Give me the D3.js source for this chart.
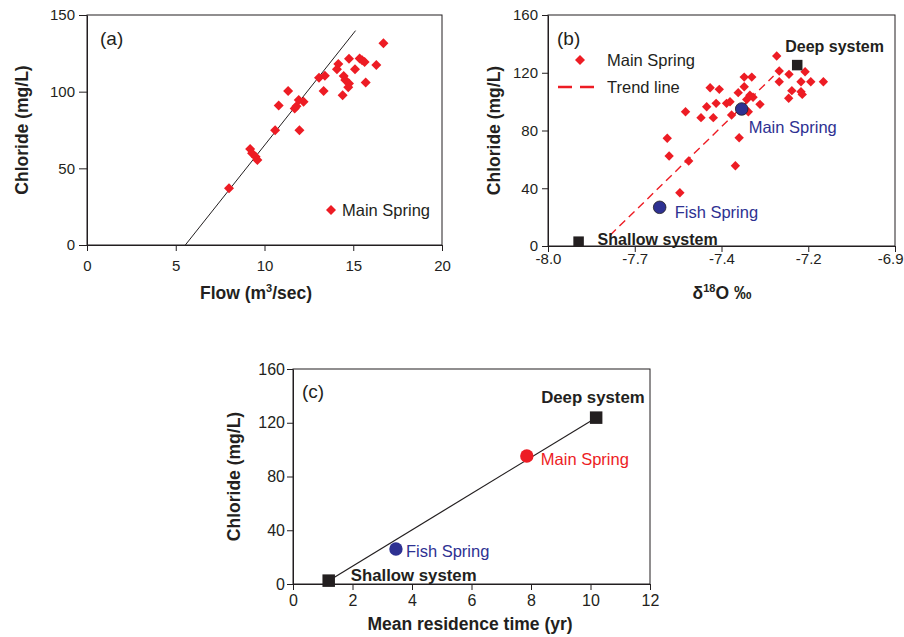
<!DOCTYPE html>
<html><head><meta charset="utf-8">
<script src="https://cdn.jsdelivr.net/npm/d3@7"></script>
<style>
body{margin:0;background:#fff}
text{font-family:"Liberation Sans",Arial,Helvetica,sans-serif;fill:#231f20}
</style>
</head><body>
<svg id="chart" width="904" height="637"></svg>
<script>
// ---------- DATA ----------
// Panel (a): Main Spring, flow vs chloride
const flowA = [8.0, 9.19, 9.3, 9.5, 9.6, 10.6, 10.8, 11.33, 11.7, 11.8, 11.93, 12.2, 11.97, 13.07, 13.4, 13.33, 14.16, 14.08, 14.4, 14.46, 14.55, 14.76, 14.72, 14.76, 15.1, 15.36, 15.5, 15.64, 15.7, 16.3, 16.7];
const chlorideA = [37, 62.6, 59.8, 57.6, 55.4, 74.8, 90.9, 100.4, 89.1, 90.5, 94.6, 93.5, 74.8, 109, 110.4, 100.4, 118, 114.6, 97.6, 110.2, 107.6, 105.4, 102.8, 121.5, 114.6, 121.7, 120.5, 119.3, 105.9, 117.4, 131.5];
const fitFlowA = [5.54, 15.13];
const fitChlorideA = [0, 139.8];
const ticksAx = [0, 5, 10, 15, 20];
const ticksAy = [0, 50, 100, 150];

// Panel (b): d18O vs chloride
const d18oB = [-7.275, -7.267, -7.236, -7.185, -7.267, -7.198, -7.167, -7.127, -7.227, -7.198, -7.237, -7.194, -7.378, -7.354, -7.378, -7.397, -7.360, -7.350, -7.370, -7.486, -7.457, -7.497, -7.467, -7.434, -7.423, -7.328, -7.515, -7.476, -7.418, -7.365, -7.394, -7.564, -7.622, -7.616, -7.554, -7.406, -7.582];
const chlorideB = [131.6, 121.2, 118.9, 120.7, 113.8, 113.8, 113.8, 113.8, 107.6, 106.9, 102.3, 105.0, 117.0, 117.0, 110.3, 106.2, 104.5, 103.0, 101.5, 109.6, 108.5, 96.5, 98.8, 98.8, 99.9, 98.1, 88.9, 88.9, 90.7, 93.0, 75.0, 93.0, 74.6, 62.3, 58.9, 55.6, 36.9];
const trendD18oB = [-7.803, -7.285];
const trendChlorideB = [7.5, 117.7];
const springNames = ["Main Spring", "Fish Spring"];
const springD18o = [-7.386, -7.646];
const springChlorideB = [94.9, 26.8];
const endNames = ["Deep system", "Shallow system"];
const endD18o = [-7.210, -7.903];
const endChlorideB = [125.3, 3.0];
const ticksBx = [-8.0, -7.725, -7.45, -7.175, -6.9];
const tickLabelsBx = ["-8.0", "-7.7", "-7.4", "-7.2", "-6.9"];
const ticksBy = [0, 40, 80, 120, 160];

// Panel (c): mean residence time vs chloride
const namesC = ["Shallow system", "Fish Spring", "Main Spring", "Deep system"];
const timeC = [1.2, 3.46, 7.86, 10.19];
const chlorideC = [2.5, 26, 95.3, 123.8];
const ticksCx = [0, 2, 4, 6, 8, 10, 12];
const ticksCy = [0, 40, 80, 120, 160];

// ---------- STYLE ----------
const RED = "#ed1c24", BLUE = "#2e3192", DARK = "#231f20";
const svg = d3.select("#chart");
const diamond = r => `M0,${-r}L${r},0L0,${r}L${-r},0Z`;

function frame(g, x, y) {
  g.append("rect")
    .attr("x", x.range()[0]).attr("y", y.range()[1])
    .attr("width", x.range()[1] - x.range()[0])
    .attr("height", y.range()[0] - y.range()[1])
    .attr("fill", "none").attr("stroke", DARK).attr("stroke-width", 1);
}
function styleAxis(g, fs) {
  g.select(".domain").attr("stroke", DARK);
  g.selectAll(".tick line").attr("stroke", DARK);
  g.selectAll(".tick text").attr("fill", DARK).style("font-size", fs + "px")
    .style("font-family", '"Liberation Sans",Arial,sans-serif');
}

// ---------- PANEL (a) ----------
{
  const x = d3.scaleLinear().domain([0, 20]).range([87, 442]);
  const y = d3.scaleLinear().domain([0, 150]).range([245, 15]);
  const g = svg.append("g");
  g.append("g").attr("transform", `translate(0,${y(0)})`)
    .call(d3.axisBottom(x).tickValues(ticksAx).tickSize(6).tickSizeOuter(0).tickPadding(9))
    .call(a => styleAxis(a, 15));
  g.append("g").attr("transform", `translate(${x(0)},0)`)
    .call(d3.axisLeft(y).tickValues(ticksAy).tickSize(8).tickSizeOuter(0).tickPadding(4))
    .call(a => styleAxis(a, 15));
  frame(g, x, y);
  g.append("line")
    .attr("x1", x(fitFlowA[0])).attr("y1", y(fitChlorideA[0]))
    .attr("x2", x(fitFlowA[1])).attr("y2", y(fitChlorideA[1]))
    .attr("stroke", DARK).attr("stroke-width", 1);
  g.selectAll("path.pt").data(flowA.map((f, i) => [f, chlorideA[i]])).enter()
    .append("path").attr("class", "pt")
    .attr("d", diamond(5))
    .attr("transform", d => `translate(${x(d[0])},${y(d[1])})`)
    .attr("fill", RED);
  g.append("text").attr("x", 100).attr("y", 45).style("font-size", "19px").text("(a)");
  // legend
  g.append("path").attr("d", diamond(5)).attr("transform", "translate(331,210)").attr("fill", RED);
  g.append("text").attr("x", 342).attr("y", 216).style("font-size", "16.5px").text("Main Spring");
  // axis titles
  const t = g.append("text").attr("x", 256).attr("y", 299).attr("text-anchor", "middle")
    .style("font-size", "17.5px").style("font-weight", "bold");
  t.append("tspan").text("Flow (m");
  t.append("tspan").attr("dy", -7).style("font-size", "11px").text("3");
  t.append("tspan").attr("dy", 7).text("/sec)");
  g.append("text").attr("transform", `translate(28,${(y.range()[0] + y.range()[1]) / 2}) rotate(-90)`)
    .attr("text-anchor", "middle").style("font-size", "17.5px").style("font-weight", "bold")
    .text("Chloride (mg/L)");
}

// ---------- PANEL (b) ----------
{
  const x = d3.scaleLinear().domain([-8.0, -6.9]).range([548, 895]);
  const y = d3.scaleLinear().domain([0, 160]).range([246, 15]);
  const g = svg.append("g");
  const xa = g.append("g").attr("transform", `translate(0,${y(0)})`)
    .call(d3.axisBottom(x).tickValues(ticksBx).tickFormat((d, i) => tickLabelsBx[i])
      .tickSize(6).tickSizeOuter(0).tickPadding(1))
    .call(a => styleAxis(a, 15));
  // keep the last label inside the page
  xa.selectAll(".tick text").filter((d, i) => i === ticksBx.length - 1)
    .attr("text-anchor", "end").attr("x", 8);
  g.append("g").attr("transform", `translate(${x(-8.0)},0)`)
    .call(d3.axisLeft(y).tickValues(ticksBy).tickSize(6).tickSizeOuter(0).tickPadding(4))
    .call(a => styleAxis(a, 15));
  frame(g, x, y);
  g.append("line")
    .attr("x1", x(trendD18oB[0])).attr("y1", y(trendChlorideB[0]))
    .attr("x2", x(trendD18oB[1])).attr("y2", y(trendChlorideB[1]))
    .attr("stroke", RED).attr("stroke-width", 1.4).attr("stroke-dasharray", "8,5");
  g.selectAll("path.pt").data(d18oB.map((v, i) => [v, chlorideB[i]])).enter()
    .append("path").attr("class", "pt")
    .attr("d", diamond(4.7))
    .attr("transform", d => `translate(${x(d[0])},${y(d[1])})`)
    .attr("fill", RED);
  // end members (squares)
  const sq = 10.5;
  endNames.forEach((n, i) => {
    g.append("rect").attr("x", x(endD18o[i]) - sq / 2).attr("y", y(endChlorideB[i]) - sq / 2)
      .attr("width", sq).attr("height", sq).attr("fill", DARK);
  });
  // springs (circles)
  springNames.forEach((n, i) => {
    g.append("circle").attr("cx", x(springD18o[i])).attr("cy", y(springChlorideB[i])).attr("r", 6.3)
      .attr("fill", BLUE).attr("stroke", DARK).attr("stroke-width", 0.8);
  });
  const springOff = [[7, 24], [15, 11]];
  springNames.forEach((n, i) => {
    g.append("text").attr("x", x(springD18o[i]) + springOff[i][0]).attr("y", y(springChlorideB[i]) + springOff[i][1])
      .style("font-size", "16.5px").style("fill", BLUE).text(n);
  });
  const endOff = [[-12, -13], [19, 3]];
  endNames.forEach((n, i) => {
    g.append("text").attr("x", x(endD18o[i]) + endOff[i][0]).attr("y", y(endChlorideB[i]) + endOff[i][1])
      .style("font-size", "16px").style("font-weight", "bold").text(n);
  });
  g.append("text").attr("x", 557).attr("y", 45).style("font-size", "19px").text("(b)");
  // legend
  g.append("path").attr("d", diamond(5)).attr("transform", "translate(580,60)").attr("fill", RED);
  g.append("text").attr("x", 607).attr("y", 66).style("font-size", "16.5px").text("Main Spring");
  g.append("line").attr("x1", 558).attr("x2", 599).attr("y1", 87).attr("y2", 87)
    .attr("stroke", RED).attr("stroke-width", 2.6).attr("stroke-dasharray", "14,8");
  g.append("text").attr("x", 607).attr("y", 93).style("font-size", "16.5px").text("Trend line");
  // axis titles
  const t = g.append("text").attr("x", 722).attr("y", 299).attr("text-anchor", "middle")
    .style("font-size", "17.5px").style("font-weight", "bold");
  t.append("tspan").text("δ");
  t.append("tspan").attr("dy", -7).style("font-size", "11px").text("18");
  t.append("tspan").attr("dy", 7).text("O ‰");
  g.append("text").attr("transform", `translate(500,${(y.range()[0] + y.range()[1]) / 2}) rotate(-90)`)
    .attr("text-anchor", "middle").style("font-size", "17.5px").style("font-weight", "bold")
    .text("Chloride (mg/L)");
}

// ---------- PANEL (c) ----------
{
  const x = d3.scaleLinear().domain([0, 12]).range([293, 650]);
  const y = d3.scaleLinear().domain([0, 160]).range([584, 369]);
  const g = svg.append("g");
  g.append("g").attr("transform", `translate(0,${y(0)})`)
    .call(d3.axisBottom(x).tickValues(ticksCx).tickSize(6).tickSizeOuter(0).tickPadding(5))
    .call(a => styleAxis(a, 16));
  g.append("g").attr("transform", `translate(${x(0)},0)`)
    .call(d3.axisLeft(y).tickValues(ticksCy).tickSize(6).tickSizeOuter(0).tickPadding(2))
    .call(a => styleAxis(a, 16));
  frame(g, x, y);
  // mixing line between end members
  g.append("line")
    .attr("x1", x(timeC[0])).attr("y1", y(chlorideC[0]))
    .attr("x2", x(timeC[3])).attr("y2", y(chlorideC[3]))
    .attr("stroke", DARK).attr("stroke-width", 1.2);
  const sq = 12.5;
  [0, 3].forEach(i => {
    g.append("rect").attr("x", x(timeC[i]) - sq / 2).attr("y", y(chlorideC[i]) - sq / 2)
      .attr("width", sq).attr("height", sq).attr("fill", DARK);
  });
  const circCol = {1: BLUE, 2: RED};
  [1, 2].forEach(i => {
    g.append("circle").attr("cx", x(timeC[i])).attr("cy", y(chlorideC[i])).attr("r", 6.7)
      .attr("fill", circCol[i]);
  });
  const off = [[22, 0], [10, 8], [14, 9], [-55, -15]];
  namesC.forEach((n, i) => {
    const bold = (i === 0 || i === 3);
    g.append("text").attr("x", x(timeC[i]) + off[i][0]).attr("y", y(chlorideC[i]) + off[i][1])
      .style("font-size", bold ? "16.8px" : "16.5px")
      .style("font-weight", bold ? "bold" : "normal")
      .style("fill", i === 1 ? BLUE : (i === 2 ? RED : DARK))
      .text(n);
  });
  g.append("text").attr("x", 302).attr("y", 398).style("font-size", "19px").text("(c)");
  g.append("text").attr("x", 470).attr("y", 630).attr("text-anchor", "middle")
    .style("font-size", "17.5px").style("font-weight", "bold").text("Mean residence time (yr)");
  g.append("text").attr("transform", `translate(240,${(y.range()[0] + y.range()[1]) / 2}) rotate(-90)`)
    .attr("text-anchor", "middle").style("font-size", "17.5px").style("font-weight", "bold")
    .text("Chloride (mg/L)");
}
</script>
</body></html>
